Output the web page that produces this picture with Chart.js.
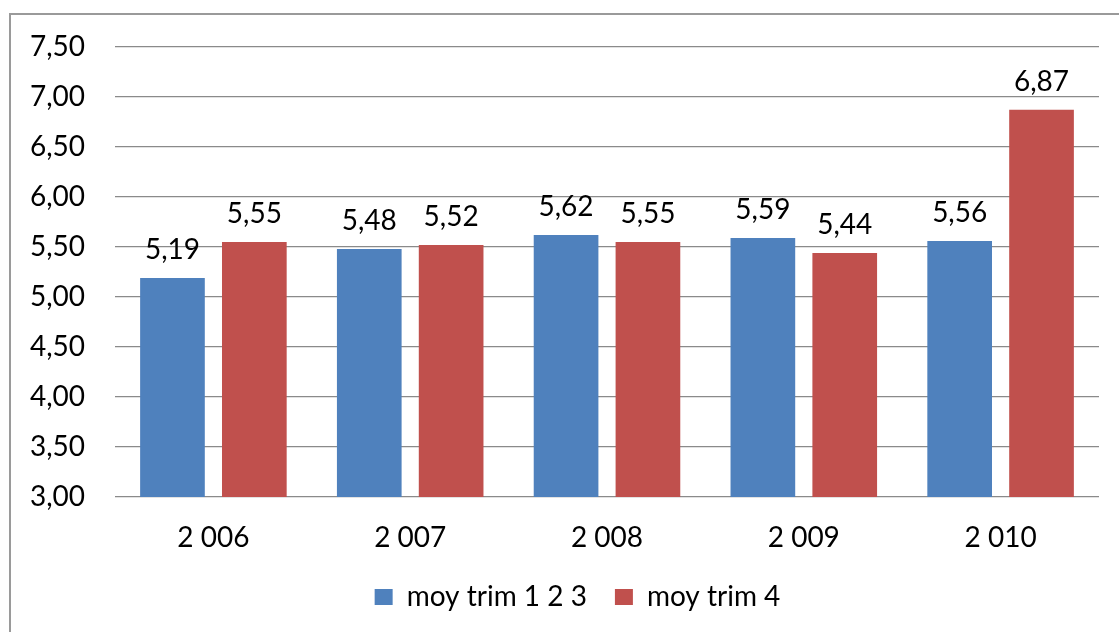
<!DOCTYPE html>
<html>
<head>
<meta charset="utf-8">
<script src="https://cdn.jsdelivr.net/npm/chart.js@4"></script>
<style>
  html, body { margin: 0; padding: 0; background: #fff; overflow: hidden; }
  #wrap { position: relative; width: 1119px; height: 632px; }
  #frame { position: absolute; left: 9px; top: 13px; width: 1200px; height: 700px; border: 2px solid #9a9a9a; box-sizing: border-box; }
  canvas { position: absolute; left: 0; top: 0; }
</style>
</head>
<body>
<div id="wrap">
  <div id="frame"></div>
  <canvas id="c" width="1119" height="632"></canvas>
</div>
<script>
const categories = ["2 006", "2 007", "2 008", "2 009", "2 010"];
const seriesNames = ["moy trim 1 2 3", "moy trim 4"];
const moyTrim123 = [5.19, 5.48, 5.62, 5.59, 5.56];
const moyTrim4 = [5.55, 5.52, 5.55, 5.44, 6.87];
const yMin = 3.0, yMax = 7.5, yStep = 0.5;

const FONT = "Lato, 'Open Sans', sans-serif";
const FSIZE = 28;
const fmt = v => v.toFixed(2).replace('.', ',');

const labelPlugin = {
  id: 'valueLabels',
  afterLayout(chart) {
    if (chart.legend) {
      chart.legend.left += 28;
      chart.legend.right += 28;
    }
  },
  afterDatasetsDraw(chart) {
    const ctx = chart.ctx;
    ctx.save();
    ctx.font = FSIZE + "px " + FONT;
    ctx.fillStyle = '#000';
    ctx.textAlign = 'center';
    ctx.textBaseline = 'middle';
    chart.data.datasets.forEach((ds, di) => {
      const meta = chart.getDatasetMeta(di);
      meta.data.forEach((bar, i) => {
        ctx.fillText(fmt(ds.data[i]), bar.x, bar.y - 28);
      });
    });
    ctx.restore();
  }
};

new Chart(document.getElementById('c'), {
  type: 'bar',
  data: {
    labels: categories,
    datasets: [
      { label: seriesNames[0], data: moyTrim123, backgroundColor: '#4F81BD', categoryPercentage: 0.832, barPercentage: 0.79 },
      { label: seriesNames[1], data: moyTrim4, backgroundColor: '#C0504D', categoryPercentage: 0.832, barPercentage: 0.79 }
    ]
  },
  options: {
    responsive: false,
    devicePixelRatio: 1,
    animation: false,
    layout: { padding: { left: 0, right: 20, top: 46, bottom: 11 } },
    plugins: {
      legend: {
        position: 'bottom',
        labels: { font: { size: FSIZE, family: FONT }, color: '#000', boxWidth: 18, boxHeight: 16, padding: 28 }
      },
      tooltip: { enabled: false }
    },
    scales: {
      x: {
        grid: { display: false, drawTicks: false },
        border: { display: false },
        ticks: { font: { size: FSIZE, family: FONT }, color: '#000', padding: 24 },
        afterFit(scale) { scale.height = 58; }
      },
      y: {
        min: yMin, max: yMax,
        grid: { color: '#8a8a8a', lineWidth: 1.3, drawTicks: false },
        border: { display: false },
        ticks: { stepSize: yStep, font: { size: FSIZE, family: FONT }, color: '#000', padding: 30, callback: v => fmt(v) },
        afterFit(scale) { scale.width = 115; }
      }
    }
  },
  plugins: [labelPlugin]
});
</script>
</body>
</html>
